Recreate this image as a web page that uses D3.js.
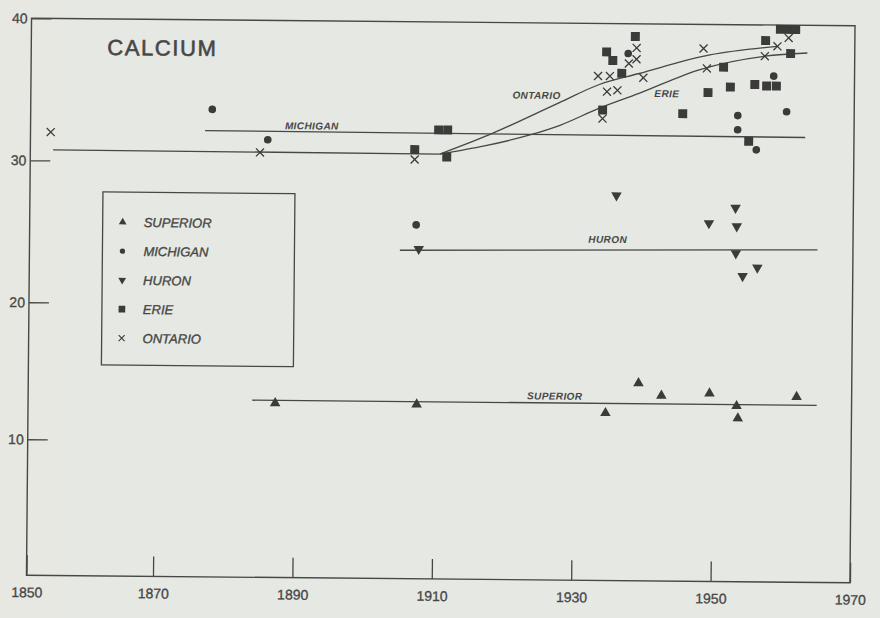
<!DOCTYPE html>
<html>
<head>
<meta charset="utf-8">
<script src="https://cdn.jsdelivr.net/npm/d3@7"></script>
<style>
  html, body { margin: 0; padding: 0; background: #e7e8e3; overflow: hidden; }
  svg { display: block; }
</style>
</head>
<body>
<svg id="chart" width="880" height="618"></svg>
<script>

// readings per lake: [year, calcium]
//
const superior = [[1887.3, 12.8], [1907.6, 12.8], [1934.7, 12.3], [1939.4, 14.5], [1942.7, 13.6],
  [1949.6, 13.8], [1953.5, 12.9], [1953.7, 12.0], [1962.1, 13.6]]
const michigan = [[1877.9, 33.7], [1885.9, 31.6], [1907.3, 25.7], [1937.5, 37.9], [1953.3, 33.6],
  [1953.3, 32.6], [1956.0, 31.2], [1958.4, 36.4], [1960.3, 33.9]]
const huron = [[1907.7, 24.0], [1936.0, 27.9], [1949.3, 26.0], [1953.1, 27.1], [1953.3, 25.8],
  [1953.2, 23.9], [1954.2, 22.3], [1956.3, 22.9]]
const erie = [[1907.0, 31.0], [1910.4, 32.4], [1911.7, 32.4], [1911.6, 30.5], [1933.9, 33.9],
  [1934.4, 38.0], [1935.3, 37.4], [1936.6, 36.5], [1938.5, 39.1], [1945.4, 33.7], [1949.0, 35.2],
  [1951.2, 37.0], [1952.2, 35.6], [1955.7, 35.8], [1957.4, 35.7], [1958.8, 35.7], [1954.9, 31.8],
  [1957.2, 38.9], [1959.3, 39.7], [1960.4, 39.7], [1961.5, 39.7], [1960.8, 38.0]]
const ontario = [[1853.2, 32.0], [1884.8, 30.7], [1907.0, 30.3], [1933.2, 36.3], [1934.9, 36.3],
  [1934.5, 35.2], [1936.0, 35.3], [1933.9, 33.3], [1937.6, 37.2], [1938.7, 37.5], [1938.7, 38.3],
  [1939.7, 36.2], [1948.3, 38.3], [1948.8, 36.9], [1957.1, 37.8], [1958.9, 38.5], [1960.5, 39.1]]

// fitted trend lines
//
const superiorTrend = [[1884.0, 13.0], [1965.0, 13.0]]
const huronTrend = [[1905.0, 23.9], [1964.9, 24.2]]
const michiganTrend = [[1876.9, 32.2], [1963.0, 32.1]]
const earlyTrend = [[1853.6, 30.75], [1910.6, 30.7]]
const ontarioTrend = [[1910.6, 30.7], [1917.7, 32.1], [1927.7, 34.4], [1933.4, 35.7], [1939.1, 36.5],
  [1949.2, 37.85], [1958.9, 38.5]]
const erieTrend = [[1910.6, 30.7], [1917.0, 31.3], [1923.5, 32.1], [1927.8, 32.8], [1933.5, 34.05],
  [1939.1, 35.1], [1947.7, 36.8], [1957.1, 37.8], [1963.2, 38.05]]

const trendLabels = ["MICHIGAN", "ONTARIO", "ERIE", "HURON", "SUPERIOR"]
const trendLabelAt = [[1892.2, 32.6], [1924.4, 34.9], [1943.1, 35.1], [1934.8, 24.8], [1927.4, 13.5]]

const lakes = ["SUPERIOR", "MICHIGAN", "HURON", "ERIE", "ONTARIO"]
const xTicks = [1850, 1870, 1890, 1910, 1930, 1950, 1970]
const yTicks = [10, 20, 30, 40]
const title = "CALCIUM"

const ink = "#474745"
const markInk = "#3b3b39"
const font = "'Liberation Sans', Arial, sans-serif"

// the scan is a bit uneven, so the scales are piecewise
//
const x = d3.scaleLinear().domain([1850, 1870, 1970]).range([29, 155.5, 852.5])
const y = d3.scaleLinear().domain([0, 10, 20, 30, 40]).range([579, 443, 306, 164, 22])

const svg = d3.select("#chart")

// paper
//
svg.append("rect").attr("width", 880).attr("height", 618).attr("fill", "#e8e8e2")
svg.append("rect").attr("x", 68).attr("y", 0).attr("width", 812).attr("height", 618).attr("fill", "#e5e8e3")

// the page sits slightly crooked on the scanner
//
const g = svg.append("g").attr("transform", "rotate(0.52, 440, 300)")

g.append("rect")
  .attr("x", x(1850)).attr("y", y(40))
  .attr("width", x(1970) - x(1850)).attr("height", y(0) - y(40))
  .attr("fill", "none").attr("stroke", ink).attr("stroke-width", 1.4)

const xAxis = g.append("g")
  .attr("transform", "translate(0," + y(0) + ")")
  .call(d3.axisBottom(x).tickValues(xTicks).tickFormat(d3.format("d"))
    .tickSizeInner(-20).tickSizeOuter(0).tickPadding(12))
const yAxis = g.append("g")
  .attr("transform", "translate(" + x(1850) + ",0)")
  .call(d3.axisLeft(y).tickValues(yTicks).tickSizeInner(-20).tickSizeOuter(0).tickPadding(4))

;[xAxis, yAxis].forEach(a => {
  a.select(".domain").remove()
  a.selectAll("line").attr("stroke", ink).attr("stroke-width", 1.3)
  a.selectAll("text").attr("fill", ink).attr("font-family", font).attr("font-size", 14)
    .attr("stroke", ink).attr("stroke-width", 0.3)
})

g.append("text")
  .attr("x", 105).attr("y", 58)
  .attr("font-family", font).attr("font-size", 22).attr("letter-spacing", 1.6)
  .attr("fill", ink).attr("stroke", ink).attr("stroke-width", 0.6).text(title)

// trend lines
//
const line = d3.line().x(d => x(d[0])).y(d => y(d[1])).curve(d3.curveMonotoneX)
;[superiorTrend, huronTrend, michiganTrend, earlyTrend, ontarioTrend, erieTrend].forEach(t => {
  g.append("path").attr("d", line(t))
    .attr("fill", "none").attr("stroke", ink).attr("stroke-width", 1.3)
})

trendLabels.forEach((name, i) => {
  g.append("text")
    .attr("x", x(trendLabelAt[i][0])).attr("y", y(trendLabelAt[i][1]))
    .attr("dy", "0.35em").attr("text-anchor", "middle")
    .attr("font-family", font).attr("font-size", 10).attr("font-style", "italic")
    .attr("font-weight", "bold").attr("letter-spacing", 0.4)
    .attr("fill", ink).text(name)
})

// markers
//
const crossPath = s => {
  let h = s / 2
  return "M" + (-h) + "," + (-h) + "L" + h + "," + h + "M" + (-h) + "," + h + "L" + h + "," + (-h)
}

const markers = {
  SUPERIOR: { type: d3.symbolTriangle, size: 48, legend: 26, rotate: 0 },
  MICHIGAN: { type: d3.symbolCircle, size: 46, legend: 22, rotate: 0 },
  HURON: { type: d3.symbolTriangle, size: 48, legend: 26, rotate: 180 },
  ERIE: { type: d3.symbolSquare, size: 80, legend: 44, rotate: 0 },
  ONTARIO: { cross: 8, legend: 6 }
}

const drawMark = (parent, lake, px, py, legend) => {
  let m = markers[lake]
  if (m.cross) {
    parent.append("path")
      .attr("d", crossPath(legend ? m.legend : m.cross))
      .attr("transform", "translate(" + px + "," + py + ")")
      .attr("fill", "none").attr("stroke", markInk).attr("stroke-width", legend ? 1.1 : 1.3)
  } else {
    parent.append("path")
      .attr("d", d3.symbol().type(m.type).size(legend ? m.legend : m.size)())
      .attr("transform", "translate(" + px + "," + py + ") rotate(" + m.rotate + ")")
      .attr("fill", markInk)
  }
}

const series = [superior, michigan, huron, erie, ontario]
series.forEach((pts, i) => {
  pts.forEach(d => drawMark(g, lakes[i], x(d[0]), y(d[1]), false))
})

// legend
//
const legend = g.append("g").attr("transform", "translate(102,195)")
legend.append("rect")
  .attr("width", 192).attr("height", 173)
  .attr("fill", "none").attr("stroke", ink).attr("stroke-width", 1.3)

lakes.forEach((lake, i) => {
  let ly = 30 + i * 29
  drawMark(legend, lake, 20, ly, true)
  legend.append("text")
    .attr("x", 41).attr("y", ly).attr("dy", "0.36em")
    .attr("font-family", font).attr("font-size", 13).attr("font-style", "italic")
    .attr("fill", ink).attr("stroke", ink).attr("stroke-width", 0.35).text(lake)
})

</script>
</body>
</html>
